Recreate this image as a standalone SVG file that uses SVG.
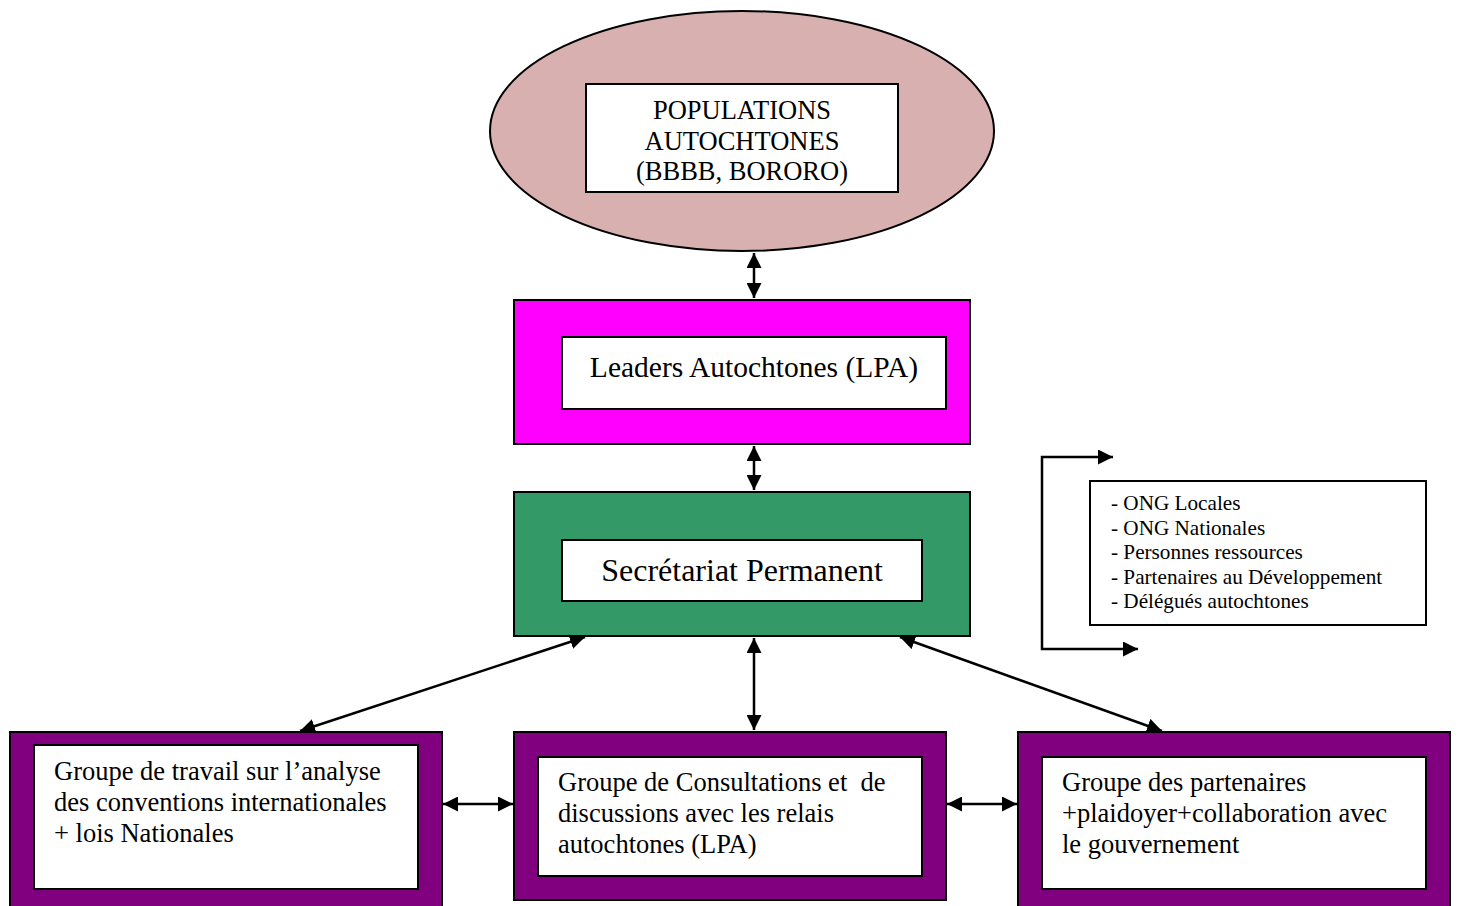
<svg xmlns="http://www.w3.org/2000/svg" width="1459" height="906" viewBox="0 0 1459 906">
<style>
text{font-family:"Liberation Serif","Times New Roman",serif;fill:#000}
.in{fill:#fff;stroke:#000;stroke-width:2}
.out{stroke:#000;stroke-width:2}
.c{stroke:#000;stroke-width:2.5;fill:none}
.tp{font-size:26.5px}
.tb{font-size:26.5px}
.t19{font-size:21.2px}
</style>
<defs>
<marker id="ah" viewBox="0 0 10 10" refX="10" refY="5" markerWidth="6" markerHeight="6" orient="auto-start-reverse" markerUnits="strokeWidth">
<path d="M0,0 L10,5 L0,10 z" fill="#000"/>
</marker>
</defs>
<rect width="1459" height="906" fill="#fff"/>

<g id="populations">
<ellipse cx="742" cy="131" rx="252" ry="120" fill="#d8b0b0" stroke="#000" stroke-width="2"/>
<rect class="in" x="586" y="84" width="312" height="108"/>
<text class="tp" x="742" y="119" text-anchor="middle">POPULATIONS</text>
<text class="tp" x="742" y="150" text-anchor="middle">AUTOCHTONES</text>
<text class="tp" x="742" y="180" text-anchor="middle">(BBBB, BORORO)</text>
</g>

<g id="leaders">
<rect class="out" x="514" y="300" width="456" height="144" fill="#ff00ff"/>
<rect class="in" x="562" y="337" width="384" height="72"/>
<text x="754" y="377" font-size="29.5" text-anchor="middle">Leaders Autochtones (LPA)</text>
</g>

<g id="secretariat">
<rect class="out" x="514" y="492" width="456" height="144" fill="#339966"/>
<rect class="in" x="562" y="540" width="360" height="61"/>
<text x="742" y="581" font-size="32" text-anchor="middle">Secrétariat Permanent</text>
</g>

<g id="liste">
<rect class="in" x="1090" y="481" width="336" height="144"/>
<text class="t19" x="1111" y="510">- ONG Locales</text>
<text class="t19" x="1111" y="535">- ONG Nationales</text>
<text class="t19" x="1111" y="559">- Personnes ressources</text>
<text class="t19" x="1111" y="584">- Partenaires au Développement</text>
<text class="t19" x="1111" y="608">- Délégués autochtones</text>
</g>

<g id="groupe-travail">
<rect class="out" x="10" y="732" width="432" height="180" fill="#800080"/>
<rect class="in" x="34" y="745" width="384" height="144"/>
<text class="tb" x="54" y="780">Groupe de travail sur l’analyse</text>
<text class="tb" x="54" y="811">des conventions internationales</text>
<text class="tb" x="54" y="842">+ lois Nationales</text>
</g>

<g id="groupe-consultations">
<rect class="out" x="514" y="732" width="432" height="168" fill="#800080"/>
<rect class="in" x="538" y="757" width="384" height="119"/>
<text class="tb" x="558" y="791" xml:space="preserve">Groupe de Consultations et  de</text>
<text class="tb" x="558" y="822">discussions avec les relais</text>
<text class="tb" x="558" y="853">autochtones (LPA)</text>
</g>

<g id="groupe-partenaires">
<rect class="out" x="1018" y="732" width="432" height="180" fill="#800080"/>
<rect class="in" x="1042" y="757" width="384" height="132"/>
<text class="tb" x="1062" y="791">Groupe des partenaires</text>
<text class="tb" x="1062" y="822">+plaidoyer+collaboration avec</text>
<text class="tb" x="1062" y="853">le gouvernement</text>
</g>

<g id="connectors">
<line class="c" x1="754" y1="253" x2="754" y2="298" marker-start="url(#ah)" marker-end="url(#ah)"/>
<line class="c" x1="754" y1="446" x2="754" y2="490" marker-start="url(#ah)" marker-end="url(#ah)"/>
<line class="c" x1="585" y1="637" x2="300" y2="731" marker-start="url(#ah)" marker-end="url(#ah)"/>
<line class="c" x1="754" y1="638" x2="754" y2="730" marker-start="url(#ah)" marker-end="url(#ah)"/>
<line class="c" x1="900" y1="637" x2="1162" y2="731" marker-start="url(#ah)" marker-end="url(#ah)"/>
<line class="c" x1="443" y1="804" x2="513" y2="804" marker-start="url(#ah)" marker-end="url(#ah)"/>
<line class="c" x1="947" y1="804" x2="1017" y2="804" marker-start="url(#ah)" marker-end="url(#ah)"/>
<polyline class="c" points="1113,457 1042,457 1042,649 1138,649" marker-start="url(#ah)" marker-end="url(#ah)"/>
</g>
</svg>
